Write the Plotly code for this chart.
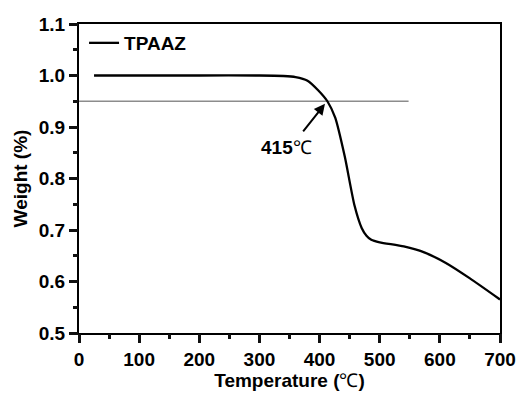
import plotly.graph_objects as go

temp = [25, 100, 200, 300, 340, 360, 380, 398, 413, 426, 442, 458, 470, 478, 486, 500, 540, 575, 610, 650, 700]
weight = [1.0, 1.0, 1.0, 1.0, 0.999, 0.997, 0.99, 0.971, 0.95, 0.918, 0.842, 0.748, 0.704, 0.689, 0.681,
          0.676, 0.668, 0.656, 0.636, 0.606, 0.565]
ref_x = [0, 548]
ref_y = [0.95, 0.95]
onset_T = 409
onset_W = 0.945
x_range = [0, 700]
y_range = [0.5, 1.1]

font = "Liberation Sans, Arial, sans-serif"
fig = go.Figure()
fig.add_trace(go.Scatter(x=x_range, y=y_range, xaxis="x2", yaxis="y2", mode="lines",
                         line=dict(width=0, color="rgba(0,0,0,0)"), showlegend=False, hoverinfo="skip"))
fig.add_trace(go.Scatter(x=ref_x, y=ref_y, mode="lines", line=dict(color="#8c8c8c", width=1.5),
                         showlegend=False, hoverinfo="skip"))
fig.add_trace(go.Scatter(x=temp, y=weight, mode="lines", name="<b>TPAAZ</b>",
                         line=dict(color="black", width=2.3, shape="spline", smoothing=0.6)))

fig.add_annotation(x=onset_T, y=onset_W, ax=-23, ay=29, xref="x", yref="y",
                   showarrow=True, arrowhead=2, arrowsize=1.1, arrowwidth=2, arrowcolor="black", text="")
fig.add_annotation(x=onset_T, y=onset_W, xref="x", yref="y", ax=-38, ay=44, showarrow=True,
                   arrowcolor="rgba(0,0,0,0)", arrowwidth=0.1,
                   text="<b>415</b>℃", font=dict(family=font, size=19, color="black"))

tickfont = dict(family=font, size=19, color="black", weight="bold")
fig.update_layout(
    xaxis=dict(range=x_range, dtick=100, tick0=0, tickmode="linear",
               showline=True, linecolor="black", linewidth=2, mirror=True,
               ticks="outside", ticklen=8, tickwidth=2.5, tickcolor="#111111",
               showgrid=False, zeroline=False, tickfont=tickfont,
               title=dict(text="<b>Temperature (</b>℃<b>)</b>", font=dict(family=font, size=19, color="black"), standoff=4)),
    yaxis=dict(range=y_range, dtick=0.1, tick0=0.5, tickmode="linear", tickformat=".1f",
               showline=True, linecolor="black", linewidth=2, mirror=True,
               ticks="outside", ticklen=8, tickwidth=2.5, tickcolor="#111111",
               showgrid=False, zeroline=False, tickfont=tickfont,
               title=dict(text="<b>Weight (%)</b>", font=dict(family=font, size=19, color="black"), standoff=6)),
    xaxis2=dict(range=x_range, overlaying="x", side="bottom", anchor="y", dtick=50, tick0=0, tickmode="linear",
                ticks="outside", ticklen=5, tickwidth=2.5, tickcolor="#111111", showticklabels=False,
                showline=False, showgrid=False, zeroline=False),
    yaxis2=dict(range=y_range, overlaying="y", side="left", anchor="x", dtick=0.05, tick0=0.5, tickmode="linear",
                ticks="outside", ticklen=5, tickwidth=2.5, tickcolor="#111111", showticklabels=False,
                showline=False, showgrid=False, zeroline=False),
    width=528, height=399, margin=dict(l=79, r=20, t=24, b=59),
    plot_bgcolor="white", paper_bgcolor="white",
    legend=dict(x=0.012, y=1.0, xanchor="left", yanchor="top", bgcolor="rgba(0,0,0,0)",
                font=dict(family=font, size=19, color="black"), itemwidth=30, tracegroupgap=0),
)
fig.write_html("out.html")
